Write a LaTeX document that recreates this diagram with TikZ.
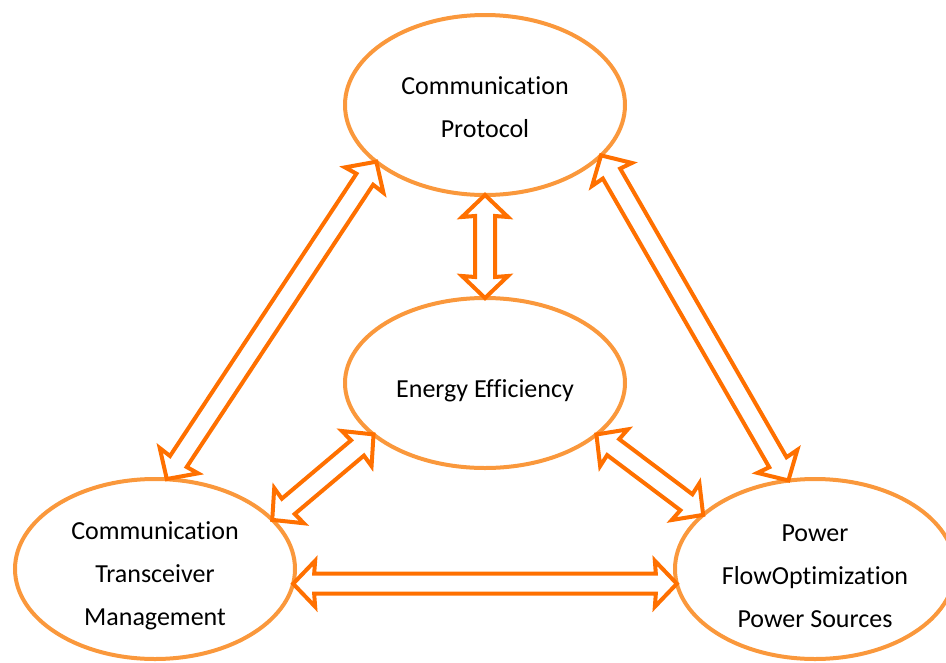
\documentclass[tikz,border=0pt]{standalone}
\usepackage{fontspec}
\setmainfont{Carlito}[Ligatures=NoCommon]
\usetikzlibrary{shapes.geometric,calc}
\definecolor{ringor}{RGB}{250,152,60}
\definecolor{arrowor}{RGB}{255,112,0}
% hollow block arrow with a head at both ends
\newcommand{\twoway}[2]{%
  \draw[twoway] let \p1=($(#1)!-2pt!(#2)$), \p2=($(#2)!-2pt!(#1)$),
    \n1={veclen(\x2-\x1,\y2-\y1)}, \n2={atan2(\y2-\y1,\x2-\x1)} in
    [shift={(\p1)}, rotate=\n2]
    (0pt,0pt) -- (22pt,23pt) -- (21pt,10pt) -- ({\n1-21pt},10pt) -- ({\n1-22pt},23pt)
    -- ({\n1+0pt},0pt) -- ({\n1-22pt},-23pt) -- ({\n1-21pt},-10pt) -- (21pt,-10pt)
    -- (22pt,-23pt) -- cycle;}
\begin{document}
\begin{tikzpicture}[x=1pt,y=-1pt,
    ring/.style={ellipse, draw=ringor, line width=4pt, minimum width=280pt,
      minimum height=180pt, inner sep=0pt},
    ringtext/.style={align=center, inner sep=0pt, font=\fontsize{26}{43}\selectfont},
    twoway/.style={draw=arrowor, fill=white, line width=4pt, line join=miter}]
  \useasboundingbox (0,0) rectangle (946,662);
  \node[ring] (proto) at (485,105) {};
  \node[ring, minimum height=170pt] (energy) at (485,383) {};
  \node[ring] (trans) at (155,569) {};
  \node[ring] (power) at (815,569) {};
  \node[ringtext] (proto-t) at ([yshift=-2pt]proto) {Communication\\Protocol};
  \node[ringtext] (energy-t) at ([yshift=-8pt]energy) {Energy Efficiency};
  \node[ringtext] (trans-t) at ([yshift=-7pt]trans) {Communication\\Transceiver\\Management};
  \node[ringtext] (power-t) at ([yshift=-7pt]power) {Power\\FlowOptimization\\Power Sources};
  \twoway{proto.south}{energy.north}
  \twoway{proto.208}{trans.82}
  \twoway{proto.336}{power.107}
  \twoway{energy.205}{trans.23}
  \twoway{energy.335}{power.154}
  \twoway{trans.354}{power.186}
\end{tikzpicture}
\end{document}
